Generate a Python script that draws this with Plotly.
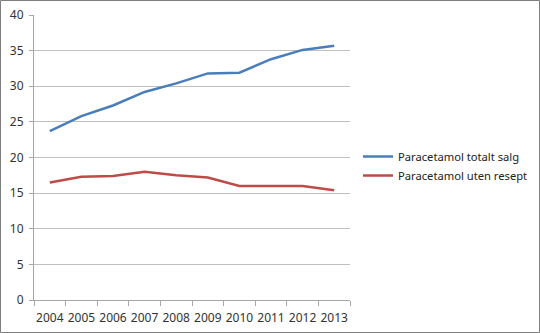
import plotly.graph_objects as go

years = ["2004", "2005", "2006", "2007", "2008", "2009", "2010", "2011", "2012", "2013"]
totalt = [23.7, 25.8, 27.3, 29.2, 30.4, 31.8, 31.9, 33.8, 35.1, 35.7]
uten = [16.5, 17.3, 17.4, 18.0, 17.5, 17.2, 16.0, 16.0, 16.0, 15.4]

W, H = 540, 333
L, R, T, B = 34, 190, 15, 33
pw, ph = W - L - R, H - T - B

xi = list(range(len(years)))
fig = go.Figure()
fig.add_trace(go.Scatter(x=xi, y=totalt, mode="lines", name="Paracetamol totalt salg",
                         line=dict(color="#4a7ebb", width=2.5)))
fig.add_trace(go.Scatter(x=xi, y=uten, mode="lines", name="Paracetamol uten resept",
                         line=dict(color="#be4b48", width=2.5)))

fig.update_layout(
    width=W, height=H,
    margin=dict(l=L, r=R, t=T, b=B, pad=0, autoexpand=False),
    paper_bgcolor="white", plot_bgcolor="white",
    font=dict(family="Noto Sans", size=12, color="#333333"),
    showlegend=True,
    legend=dict(x=(358 - L) / pw, y=(300 - 166) / ph, xanchor="left", yanchor="middle",
                font=dict(size=11.2, color="#222222"), bgcolor="rgba(0,0,0,0)",
                itemwidth=30, tracegroupgap=0),
    xaxis=dict(range=[-0.5, 9.5], tickmode="array", tickvals=xi, ticktext=years,
               showgrid=False, zeroline=False, showline=True, linecolor="#a6a6a6", linewidth=1,
               ticks="", ticklabelstandoff=7, tickfont=dict(size=12, color="#333333"),
               minor=dict(tick0=-0.5, dtick=1, ticks="outside", ticklen=5, tickcolor="#a6a6a6", showgrid=False)),
    yaxis=dict(range=[0, 40], dtick=5, showgrid=True, gridcolor="#c0c0c0", gridwidth=1,
               zeroline=False, showline=True, linecolor="#a6a6a6", linewidth=1,
               ticks="outside", ticklen=4, tickcolor="#a6a6a6", ticklabelstandoff=3,
               tickfont=dict(size=12, color="#333333")),
    shapes=[dict(type="rect", xref="paper", yref="paper",
                 x0=(0.5 - L) / pw, x1=(W - 0.5 - L) / pw,
                 y0=(H - B - (H - 0.5)) / ph, y1=(H - B - 0.5) / ph,
                 line=dict(color="#7f7f7f", width=1), fillcolor="rgba(0,0,0,0)", layer="below")],
)

fig.write_html("out.html")
